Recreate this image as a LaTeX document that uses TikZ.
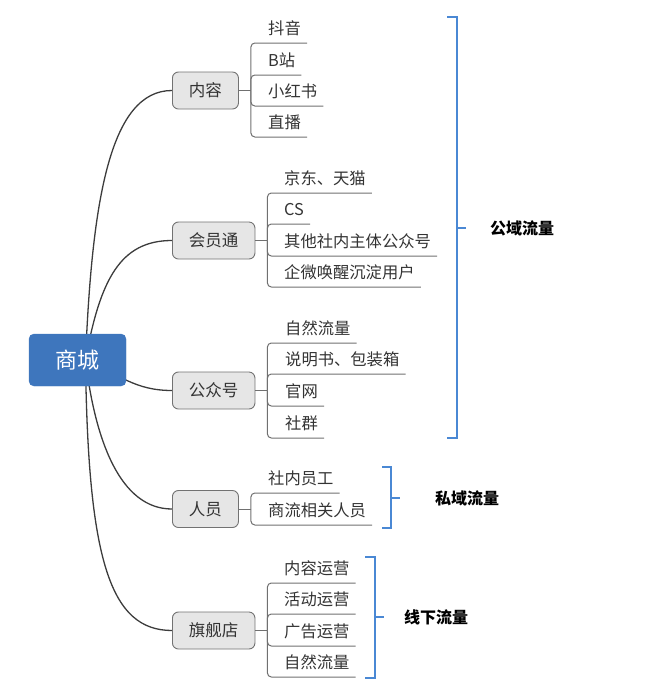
\documentclass[tikz,border=0pt]{standalone}
\usepackage{fontspec}
\setmainfont{Noto Sans CJK SC}
\usetikzlibrary{backgrounds,calc}
\definecolor{rootblue}{HTML}{3E76BD}
\definecolor{topicfill}{HTML}{E6E6E6}
\definecolor{topicdraw}{HTML}{727272}
\definecolor{txt}{HTML}{333333}
\definecolor{curvecol}{HTML}{3C3C3C}
\definecolor{branchcol}{HTML}{707070}
\definecolor{bracketblue}{HTML}{4A88D4}
\begin{document}
\begin{tikzpicture}[x=1pt,y=-1pt,
  rootbox/.style={rectangle, rounded corners=5pt, fill=rootblue, draw=rootblue, text=white,
    font=\fontsize{22}{26}\selectfont, minimum width=97pt, minimum height=52pt, inner sep=0pt},
  topic/.style={rectangle, rounded corners=6pt, fill=topicfill, draw=topicdraw, line width=0.9pt,
    text=txt, font=\fontsize{16.5}{20}\selectfont, minimum height=37pt, inner xsep=16.5pt, inner ysep=0pt, anchor=west},
  leaf/.style={anchor=base west, inner sep=0pt, text=txt, font=\fontsize{16.3}{19}\selectfont},
  curve/.style={draw=curvecol, line width=1.3pt},
  branch/.style={draw=branchcol, line width=1pt, rounded corners=4pt},
  brk/.style={draw=bracketblue, line width=1.4pt},
  tag/.style={anchor=west, inner sep=0pt, font=\bfseries\fontsize{16}{19}\selectfont, text=black}]
\useasboundingbox (0,0) rectangle (647,683);

% root and topics
\node[rootbox] (root) at (77.5,360) {商城};
\node[topic] (t1) at (172,90.5) {内容};
\node[topic] (t2) at (172,240.5) {会员通};
\node[topic] (t3) at (172,390.5) {公众号};
\node[topic] (t4) at (172,509) {人员};
\node[topic] (t5) at (172,630.5) {旗舰店};

\coordinate (o) at ($(root.center)+(8,0)$);
\begin{pgfonlayer}{background}
\draw[curve] (o) .. controls (92,200) and (110,90.5) .. (t1.west);
\draw[curve] (o) .. controls (100,280) and (120,240.5) .. (t2.west);
\draw[curve] (o) .. controls (120,375) and (135,390.5) .. (t3.west);
\draw[curve] (o) .. controls (95,440) and (120,509) .. (t4.west);
\draw[curve] (o) .. controls (88,560) and (110,630.5) .. (t5.west);
\end{pgfonlayer}

% junctions
\coordinate (j1) at ($(t1.east)+(12,0)$);
\coordinate (j2) at ($(t2.east)+(12,0)$);
\coordinate (j3) at ($(t3.east)+(12,0)$);
\coordinate (j4) at ($(t4.east)+(12,0)$);
\coordinate (j5) at ($(t5.east)+(12,0)$);
\foreach \t/\j in {t1/j1,t2/j2,t3/j3,t4/j4,t5/j5}
  \draw[branch] (\t.east) -- (\j);

% group 1
\node[leaf] (a1) at (268,34) {抖音};
\node[leaf] (a2) at (268,66) {B站};
\node[leaf] (a3) at (268,97) {小红书};
\node[leaf] (a4) at (268,128) {直播};
% group 2
\node[leaf] (b1) at (284,184) {京东、天猫};
\node[leaf] (b2) at (284,215) {CS};
\node[leaf] (b3) at (284,247) {其他社内主体公众号};
\node[leaf] (b4) at (284,278) {企微唤醒沉淀用户};
% group 3
\node[leaf] (c1) at (285,334) {自然流量};
\node[leaf] (c2) at (285,365) {说明书、包装箱};
\node[leaf] (c3) at (285,397) {官网};
\node[leaf] (c4) at (285,429) {社群};
% group 4
\node[leaf] (d1) at (268,484) {社内员工};
\node[leaf] (d2) at (268,516) {商流相关人员};
% group 5
\node[leaf] (e1) at (284,574) {内容运营};
\node[leaf] (e2) at (284,605) {活动运营};
\node[leaf] (e3) at (284,637) {广告运营};
\node[leaf] (e4) at (284,668) {自然流量};

\foreach \j/\l in {j1/a1,j1/a2,j1/a3,j1/a4,j2/b1,j2/b2,j2/b3,j2/b4,j3/c1,j3/c2,j3/c3,j3/c4,j4/d1,j4/d2,j5/e1,j5/e2,j5/e3,j5/e4}
  \draw[branch] (\j) |- ($(\l.base east)+(6,9)$);

% brackets
\draw[brk] (447,17) -- (457,17) -- (457,438) -- (447,438);
\draw[brk] (457,228) -- (466,228);
\draw[brk] (382,467) -- (391,467) -- (391,528) -- (382,528);
\draw[brk] (391,498) -- (400,498);
\draw[brk] (365,557) -- (375,557) -- (375,678) -- (365,678);
\draw[brk] (375,617) -- (384,617);

\node[tag] (g1) at (490,228) {公域流量};
\node[tag] (g2) at (435,498) {私域流量};
\node[tag] (g3) at (404,617) {线下流量};
\end{tikzpicture}
\end{document}
